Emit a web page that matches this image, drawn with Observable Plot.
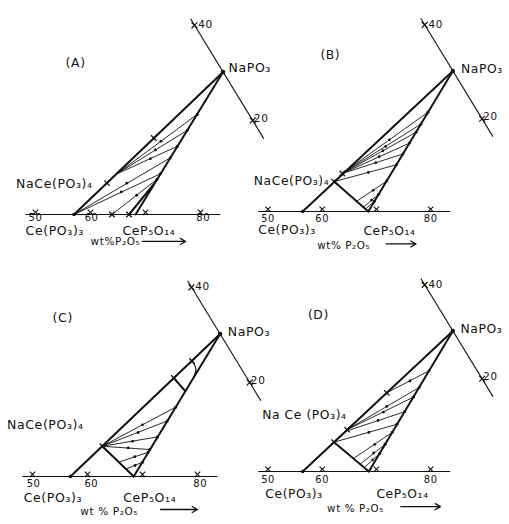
<!DOCTYPE html>
<html><head><meta charset="utf-8">
<script src="https://cdn.jsdelivr.net/npm/d3@7"></script>
<script src="https://cdn.jsdelivr.net/npm/@observablehq/plot@0.6"></script>
<style>
html,body{margin:0;padding:0;background:#fff;overflow:hidden;}
#wrap{position:relative;width:509px;height:524px;overflow:hidden;background:#fff;}
.panel{position:absolute;}
.panel svg text{letter-spacing:0.6px;}
</style></head><body><div id="wrap"></div>
<script>
// ---- shared values (x = wt% P2O5 along the base line, y = height above the base, same units) ----
const naPO3 = [84.1, 25.9];                 // NaPO3 vertex
const baseAxis = [48.2, 83.6];              // extent of the wt% P2O5 base line
const baseTicks = [50, 60, 70, 80];
const naAxis = [78.2, 35.6, 91.5, 13.8];    // Na2O-P2O5 join through NaPO3
const naTicks = [[78.9, 34.4], [89.5, 17.1]];
const naTickLabels = [{text: "40", x: 79.6, y: 34.5}, {text: "20", x: 89.7, y: 17.5}];

// ---- panel A ----
const thickA = [[57.0, 0, 84.1, 25.9], [84.1, 25.9, 68.2, 0], [67.0, 0, 71.5, 5.5]];
const tiesA = [[64.8, 7.4, 79.4, 18.2], [64.8, 7.4, 77.6, 15.3], [64.8, 7.4, 75.8, 12.4],
               [57.0, 0, 74.5, 10.3], [57.0, 0, 72.7, 7.4], [63.9, 0, 72.1, 6.4]];
const crossA = [[71.5, 13.9], [63.0, 5.7], [63.9, 0], [67.0, 0]];
const arrowA = [[72.8, 13.3], [71.8, 11.75], [70.9, 10.15], [66.6, 5.7], [65.6, 4.1], [68.4, 3.5]];
const curveA = [];
const labelsA = [
  {text: "(A)", x: 57.3, y: 27.6, a: "middle"}, {text: "NaPO₃", x: 85.1, y: 26.7, a: "start"},
  {text: "NaCe(PO₃)₄", x: 60.4, y: 5.6, a: "end"}, {text: "Ce(PO₃)₃", x: 48.2, y: -3.05, a: "start"},
  {text: "CeP₅O₁₄", x: 65.8, y: -3.0, a: "start"}];
const unitTextA = [{text: "wt%P₂O₅", x: 60.0, y: -4.9}];
const tickLabelsA = [{text: "50", x: 50.0, y: -0.6}, {text: "60", x: 60.2, y: -0.6}, {text: "80", x: 80.5, y: -0.6}];
const unitArrowA = [69.4, 77.3, -4.9];
const ceA = 57.0;

// ---- panel B ----
const thickB = [[56.4, 0, 84.1, 25.9], [84.1, 25.9, 68.5, 0], [62.2, 5.5, 68.5, 0]];
const tiesB = [[63.7, 7.0, 79.5, 18.3], [63.7, 7.0, 78.2, 16.1], [63.7, 7.0, 77.3, 14.6],
               [63.7, 7.0, 76.1, 12.6], [63.7, 7.0, 74.9, 10.6], [62.2, 5.5, 73.7, 8.6],
               [66.4, 1.9, 71.9, 5.6], [67.6, 0.8, 70.4, 3.15], [68.0, 0.45, 69.6, 1.85]];
const crossB = [[62.2, 5.5], [63.7, 7.0]];
const arrowB = [[72.4, 13.2], [71.7, 12.0], [71.2, 11.2], [70.5, 10.1], [69.9, 9.0], [68.5, 7.2], [69.4, 3.9], [69.1, 2.1]];
const curveB = [];
const labelsB = [
  {text: "(B)", x: 61.5, y: 28.9, a: "middle"}, {text: "NaPO₃", x: 85.6, y: 26.2, a: "start"},
  {text: "NaCe(PO₃)₄", x: 61.3, y: 5.6, a: "end"}, {text: "Ce(PO₃)₃", x: 48.2, y: -3.5, a: "start"},
  {text: "CeP₅O₁₄", x: 67.6, y: -3.6, a: "start"}];
const unitTextB = [{text: "wt% P₂O₅", x: 59.1, y: -6.4}];
const tickLabelsB = [{text: "50", x: 50.0, y: -1.4}, {text: "60", x: 60.0, y: -1.4}, {text: "80", x: 80.0, y: -1.4}];
const unitArrowB = [71.8, 77.3, -6.0];
const ceB = 56.4;

// ---- panel C ----
const thickC = [[56.9, 0, 84.1, 25.9], [84.1, 25.9, 68.4, 0], [62.7, 5.5, 68.4, 0], [75.7, 17.9, 77.8, 15.5]];
const tiesC = [[62.7, 5.5, 76.0, 12.6], [62.7, 5.5, 74.5, 10.1], [62.7, 5.5, 72.7, 7.2],
               [62.7, 5.5, 71.3, 4.9], [65.7, 2.6, 71.0, 4.4], [67.0, 1.35, 70.0, 2.6]];
const crossC = [[79.0, 21.0], [75.7, 17.9], [62.7, 5.5]];
const arrowC = [[70.0, 9.4], [69.2, 8.0], [68.2, 6.4], [67.4, 5.2], [68.6, 3.6], [68.65, 2.0]];
const curveC = [[79.0, 21.0], [79.7, 19.6], [79.3, 18.0]];
const labelsC = [
  {text: "(C)", x: 55.5, y: 28.9, a: "middle"}, {text: "NaPO₃", x: 85.5, y: 26.2, a: "start"},
  {text: "NaCe(PO₃)₄", x: 59.3, y: 9.3, a: "end"}, {text: "Ce(PO₃)₃", x: 48.4, y: -3.9, a: "start"},
  {text: "CeP₅O₁₄", x: 66.5, y: -3.9, a: "start"}];
const unitTextC = [{text: "wt % P₂O₅", x: 58.7, y: -6.3}];
const tickLabelsC = [{text: "50", x: 50.2, y: -1.25}, {text: "60", x: 60.7, y: -1.25}, {text: "80", x: 80.5, y: -1.25}];
const unitArrowC = [73.3, 80.0, -6.0];
const ceC = 56.9;

// ---- panel D ----
const thickD = [[56.4, 0, 84.1, 25.9], [84.1, 25.9, 68.6, 0], [62.2, 5.4, 68.6, 0]];
const tiesD = [[71.9, 14.5, 79.7, 18.55], [64.6, 7.7, 77.9, 15.5], [64.6, 7.7, 76.8, 13.7],
               [64.3, 7.4, 75.2, 11.0], [62.2, 5.4, 73.8, 8.7], [65.8, 2.4, 72.9, 7.2],
               [67.0, 1.35, 71.6, 5.0], [67.8, 0.75, 70.6, 3.3]];
const crossD = [[71.9, 14.5], [64.6, 7.7], [62.2, 5.4]];
const arrowD = [[76.2, 16.7], [71.9, 12.0], [71.3, 10.95], [70.3, 9.4], [68.6, 7.2], [69.7, 5.0], [69.5, 3.4], [69.3, 2.15]];
const curveD = [];
const labelsD = [
  {text: "(D)", x: 59.3, y: 28.9, a: "middle"}, {text: "NaPO₃", x: 85.5, y: 26.2, a: "start"},
  {text: "Na Ce (PO₃)₄", x: 64.5, y: 10.4, a: "end"}, {text: "Ce(PO₃)₃", x: 49.5, y: -4.1, a: "start"},
  {text: "CeP₅O₁₄", x: 70.0, y: -4.1, a: "start"}];
const unitTextD = [{text: "wt % P₂O₅", x: 60.9, y: -6.8}];
const tickLabelsD = [{text: "50", x: 50.0, y: -1.55}, {text: "60", x: 60.0, y: -1.55}, {text: "80", x: 80.0, y: -1.55}];
const unitArrowD = [74.5, 81.8, -6.5];
const ceD = 56.4;

// ---- assembly ----
const panelSpecs = [
  {thick: thickA, ties: tiesA, cross: crossA, arrows: arrowA, curve: curveA, labels: labelsA, unitText: unitTextA, ticks: tickLabelsA, unit: unitArrowA, ce: ceA, left: 0, top: 0},
  {thick: thickB, ties: tiesB, cross: crossB, arrows: arrowB, curve: curveB, labels: labelsB, unitText: unitTextB, ticks: tickLabelsB, unit: unitArrowB, ce: ceB, left: 233, top: 0},
  {thick: thickC, ties: tiesC, cross: crossC, arrows: arrowC, curve: curveC, labels: labelsC, unitText: unitTextC, ticks: tickLabelsC, unit: unitArrowC, ce: ceC, left: -3, top: 262},
  {thick: thickD, ties: tiesD, cross: crossD, arrows: arrowD, curve: curveD, labels: labelsD, unitText: unitTextD, ticks: tickLabelsD, unit: unitArrowD, ce: ceD, left: 233, top: 260}
];

const INK = "#111";
const FONT = "DejaVu Sans";
const seg = {x1: d => d[0], y1: d => d[1], x2: d => d[2], y2: d => d[3]};

function drawPanel(p) {
  const tieEnds = p.ties.map(d => [d[2], d[3]]);
  const textMarks = ["start", "middle", "end"].map(a =>
    Plot.text(p.labels.filter(d => d.a === a), {x: "x", y: "y", text: "text", textAnchor: a, fontSize: 12.5, fill: INK}));
  const chart = Plot.plot({
    width: 280, height: 262, margin: 0,
    x: {domain: [43.636, 94.545], axis: null},
    y: {domain: [-8.727, 38.909], axis: null},
    style: {background: "transparent", overflow: "visible", fontFamily: FONT, color: INK},
    marks: [
      Plot.link([baseAxis], {x1: d => d[0], x2: d => d[1], y1: () => 0, y2: () => 0, stroke: INK, strokeWidth: 1.1}),
      Plot.dot(baseTicks, {x: d => d, y: () => 0.4, symbol: "times", r: 2.6, stroke: INK, strokeWidth: 1.1}),
      Plot.text(p.ticks, {x: "x", y: "y", text: "text", fontSize: 10, fill: INK}),
      Plot.link([naAxis], {...seg, stroke: INK, strokeWidth: 1.1}),
      Plot.dot(naTicks, {x: d => d[0], y: d => d[1], symbol: "times", r: 2.8, stroke: INK, strokeWidth: 1.2}),
      Plot.text(naTickLabels, {x: "x", y: "y", text: "text", textAnchor: "start", fontSize: 10.5, fill: INK}),
      Plot.link(p.ties, {...seg, stroke: INK, strokeWidth: 0.9}),
      Plot.link(p.thick, {...seg, stroke: INK, strokeWidth: 2, strokeLinecap: "round"}),
      Plot.line(p.curve, {x: d => d[0], y: d => d[1], curve: "natural", stroke: INK, strokeWidth: 1.2}),
      Plot.dot(tieEnds, {x: d => d[0], y: d => d[1], r: 1.5, fill: INK}),
      Plot.dot(p.arrows, {x: d => d[0], y: d => d[1], r: 1.4, fill: INK}),
      Plot.dot(p.cross, {x: d => d[0], y: d => d[1], symbol: "times", r: 2.6, stroke: INK, strokeWidth: 1.3}),
      Plot.dot([naPO3], {x: d => d[0], y: d => d[1], r: 2.2, fill: INK}),
      Plot.dot([p.ce], {x: d => d, y: () => 0, r: 1.8, fill: INK}),
      ...textMarks,
      Plot.text(p.unitText, {x: "x", y: "y", text: "text", textAnchor: "start", fontSize: 10.5, fill: INK}),
      Plot.arrow([p.unit], {x1: d => d[0], x2: d => d[1], y1: d => d[2], y2: d => d[2], stroke: INK, strokeWidth: 1.3, headLength: 7})
    ]
  });
  const div = document.createElement("div");
  div.className = "panel";
  div.style.left = p.left + "px";
  div.style.top = p.top + "px";
  div.appendChild(chart);
  document.getElementById("wrap").appendChild(div);
}
panelSpecs.forEach(drawPanel);
</script>
</body></html>
